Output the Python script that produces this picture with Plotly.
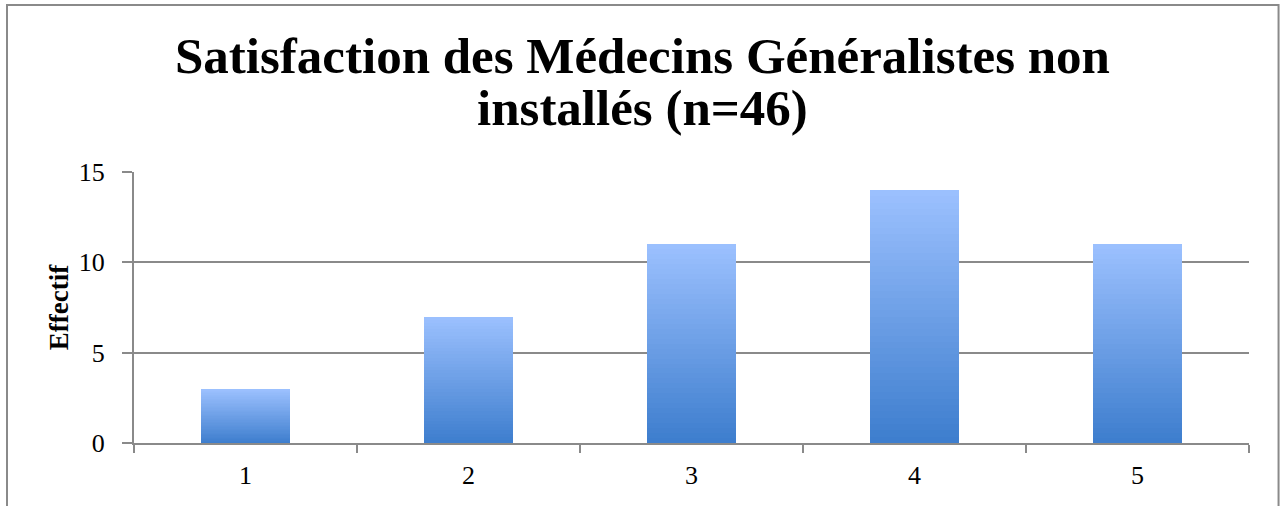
import plotly.graph_objects as go

categories = ["1", "2", "3", "4", "5"]
values = [3, 7, 11, 14, 11]
y_ticks = [0, 5, 10, 15]
title_lines = ["Satisfaction des Médecins Généralistes non", "installés (n=46)"]
y_title = "Effectif"

top_rgb = (155, 192, 254)
bot_rgb = (62, 126, 206)
N = 40

fig = go.Figure()
for k in range(N):
    t = k / (N - 1)
    c = tuple(round(bot_rgb[i] + (top_rgb[i] - bot_rgb[i]) * t) for i in range(3))
    fig.add_trace(go.Bar(
        x=categories, y=[v / N for v in values],
        marker=dict(color="rgb(%d,%d,%d)" % c, line=dict(width=0)),
        hoverinfo="skip", showlegend=False,
    ))

serif = "Liberation Serif, DejaVu Serif, serif"
title_font = dict(family=serif, size=51, color="black", weight="bold")
fig.update_layout(
    barmode="stack", bargap=0.6,
    width=1282, height=506,
    margin=dict(l=134, r=33, t=172, b=63),
    paper_bgcolor="white", plot_bgcolor="white",
    font=dict(family=serif, size=26, color="black"),
    xaxis=dict(type="category", showgrid=False, showline=True, linecolor="#8a8a8a", linewidth=2,
               ticks="outside", ticklen=8, tickcolor="#8a8a8a", tickwidth=2,
               tickson="boundaries", tickfont=dict(family=serif, size=26), ticklabelstandoff=8),
    yaxis=dict(range=[0, 15], tickvals=y_ticks, showgrid=True, gridcolor="#8a8a8a", gridwidth=2,
               showline=True, linecolor="#8a8a8a", linewidth=2, zeroline=False,
               ticks="outside", ticklen=10, tickcolor="#8a8a8a", tickwidth=2,
               tickfont=dict(family=serif, size=26), ticklabelstandoff=12,
               title=dict(text=y_title, standoff=2, font=dict(family=serif, size=27, weight="bold"))),
    shapes=[dict(type="rect", xref="paper", yref="paper", x0=-0.1139, x1=1.0265, y0=-0.5, y1=1.616,
                 line=dict(color="#8a8a8a", width=2), layer="below")],
    annotations=[
        dict(text=title_lines[0], xref="paper", yref="paper", x=0.4562, y=1.428,
             xanchor="center", yanchor="middle", showarrow=False, font=title_font),
        dict(text=title_lines[1], xref="paper", yref="paper", x=0.4562, y=1.236,
             xanchor="center", yanchor="middle", showarrow=False, font=title_font),
    ],
)
fig.write_html("out.html", config={"displayModeBar": False},
               post_script="document.body.style.margin='0';")
